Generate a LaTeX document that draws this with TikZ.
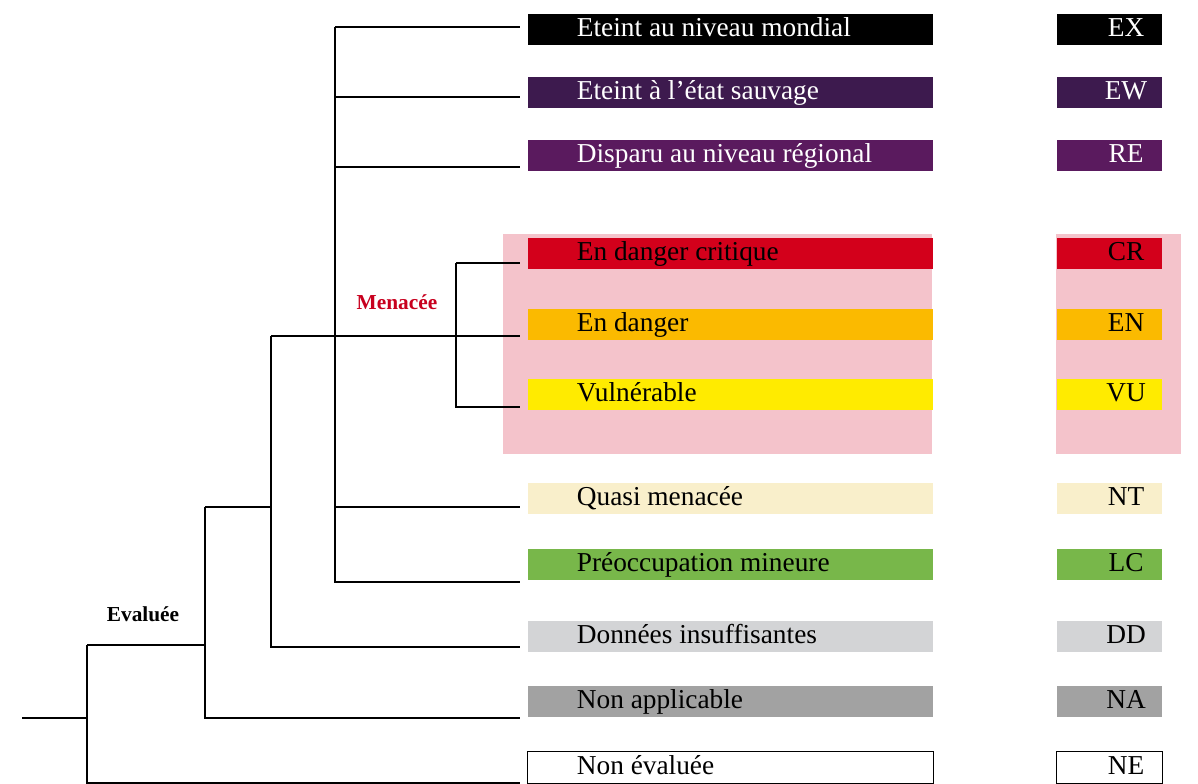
\documentclass[tikz,border=0pt]{standalone}
\usepackage{fontspec}
\setmainfont{Liberation Serif}
\usetikzlibrary{positioning, calc}
\definecolor{cEX}{HTML}{000000}
\definecolor{cEW}{HTML}{3D1A4E}
\definecolor{cRE}{HTML}{5A1A5E}
\definecolor{cCR}{HTML}{D3001B}
\definecolor{cEN}{HTML}{FBBA00}
\definecolor{cVU}{HTML}{FFEB00}
\definecolor{cNT}{HTML}{F9EFCB}
\definecolor{cLC}{HTML}{78B74A}
\definecolor{cDD}{HTML}{D3D4D6}
\definecolor{cNA}{HTML}{A2A2A2}
\definecolor{cNE}{HTML}{FFFFFF}
\definecolor{cpink}{HTML}{F4C3CB}
\definecolor{cmenace}{HTML}{C8001E}
\tikzset{
  every picture/.style={x=0.75pt, y=-0.75pt, line width=1.3pt},
  bar/.style={fill=#1, draw=none, anchor=north west, minimum width=303.75pt, minimum height=23.25pt, inner sep=0pt},
  tag/.style={bar=#1, minimum width=78.75pt},
  lbl/.style={anchor=west, inner sep=0pt, text height=15pt, text depth=3.75pt, font=\fontsize{20.5}{22}\selectfont},
  group/.style={font=\fontsize{16}{18}\selectfont\bfseries},
}

\begin{document}
\begin{tikzpicture}
  \useasboundingbox (0,0) rectangle (1198,783);
  % threatened zone
  \fill[cpink] (503,234) rectangle (932,454);
  \fill[cpink] (1056,234) rectangle (1181,454);
  % bars and codes
  \foreach \k/\t/\c/\txt in {EX/13/white/Eteint au niveau mondial, EW/76/white/Eteint à l’état sauvage,
      RE/139/white/Disparu au niveau régional, CR/237/black/En danger critique, EN/308/black/En danger,
      VU/378/black/Vulnérable, NT/482/black/Quasi menacée, LC/548/black/Préoccupation mineure,
      DD/620/black/Données insuffisantes, NA/685/black/Non applicable, NE/751/black/Non évaluée} {
    \node[bar=c\k] (b\k) at (527,\t) {};
    \node[lbl, text=\c, right=36.75pt of b\k.west] {\txt};
    \node[tag=c\k] (c\k) at (1056,\t) {};
    \node[lbl, anchor=center, text=\c] at ([xshift=52.5pt]c\k.west) {\k};
  }
  \draw[line width=0.6pt] (bNE.north west) rectangle (bNE.south east);
  \draw[line width=0.6pt] (cNE.north west) rectangle (cNE.south east);
  % tree
  \foreach \k/\y in {EX/27, EW/97, RE/167, CR/263, EN/336, VU/407, NT/507, LC/582, DD/647, NA/718, NE/783}
    \coordinate (e\k) at (520,\y);
  \coordinate (root) at (22,718);
  \coordinate (xA) at (87,645);
  \coordinate (xB) at (205,507);
  \coordinate (xC) at (271,336);
  \coordinate (xD) at (335,27);
  \coordinate (xE) at (456,263);
  \draw (root) -- (root -| xA);
  \draw (xA) -- (xA |- eNE) -- (eNE);
  \draw (xA) -- (xA -| xB);
  \draw (xB) -- (xB |- eNA) -- (eNA);
  \draw (xB) -- (xB -| xC);
  \draw (xC) -- (xC |- eDD) -- (eDD);
  \draw (xC) -- (eEN);
  \draw (xD) -- (eEX);
  \draw (xD) -- (xD |- eLC) -- (eLC);
  \foreach \k in {EW, RE, NT} \draw (xD |- e\k) -- (e\k);
  \draw (xE) -- (eCR);
  \draw (xE) -- (xE |- eVU) -- (eVU);
  \node[group, text=cmenace] (menacee) at (397,302) {Menacée};
  \node[group] (evaluee) at (143,614) {Evaluée};
\end{tikzpicture}
\end{document}
